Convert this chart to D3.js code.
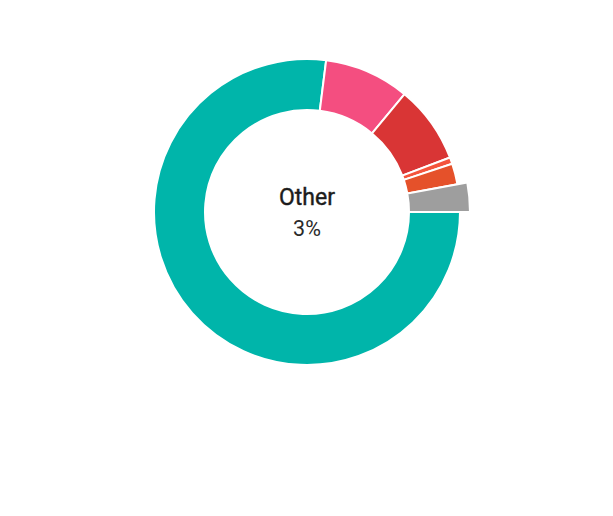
<!DOCTYPE html>
<html>
<head>
<meta charset="utf-8">
<script src="https://cdn.jsdelivr.net/npm/d3@7"></script>
<style>
  html, body { margin: 0; padding: 0; background: #fff; }
  svg { display: block; }
</style>
</head>
<body>
<svg id="chart" width="613" height="516"></svg>
<script>
const categories = ["Teal", "Pink", "Red", "Light Orange", "Orange", "Other"];
const values = [77.0, 9.0, 8.2, 0.7, 2.2, 2.9];
const colors = ["#00B5AA", "#F44E80", "#D93535", "#F4543C", "#E5512A", "#9E9E9E"];
const highlighted = "Other";
const centerLabel = "Other";
const centerValue = "3%";

const width = 613, height = 516;
const cx = 307, cy = 212;
const outerR = 153, innerR = 102, hoverOffset = 10;

const svg = d3.select("#chart");
const g = svg.append("g").attr("transform", `translate(${cx},${cy})`);

const data = categories.map((c, i) => ({ name: c, value: values[i], color: colors[i] }));

const pie = d3.pie()
  .sort(null)
  .value(d => d.value)
  .startAngle(Math.PI / 2)
  .endAngle(Math.PI / 2 + 2 * Math.PI);

const arc = d3.arc().innerRadius(innerR).outerRadius(outerR);
const arcHover = d3.arc().innerRadius(innerR).outerRadius(outerR + hoverOffset);

g.selectAll("path")
  .data(pie(data))
  .join("path")
  .attr("d", d => d.data.name === highlighted ? arcHover(d) : arc(d))
  .attr("fill", d => d.data.color)
  .attr("stroke", "#fff")
  .attr("stroke-width", 2)
  .attr("stroke-linejoin", "miter");

g.append("text")
  .attr("x", 0).attr("y", -7)
  .attr("text-anchor", "middle")
  .attr("font-family", "Roboto, sans-serif")
  .attr("font-size", 23)
  .attr("font-weight", 400)
  .attr("fill", "#1c1c1c")
  .attr("stroke", "#1c1c1c")
  .attr("stroke-width", 0.4)
  .text(centerLabel);

g.append("text")
  .attr("x", 0).attr("y", 24)
  .attr("text-anchor", "middle")
  .attr("font-family", "Roboto, sans-serif")
  .attr("font-size", 21.5)
  .attr("font-weight", 400)
  .attr("fill", "#2a2a2a")
  .text(centerValue);
</script>
</body>
</html>
